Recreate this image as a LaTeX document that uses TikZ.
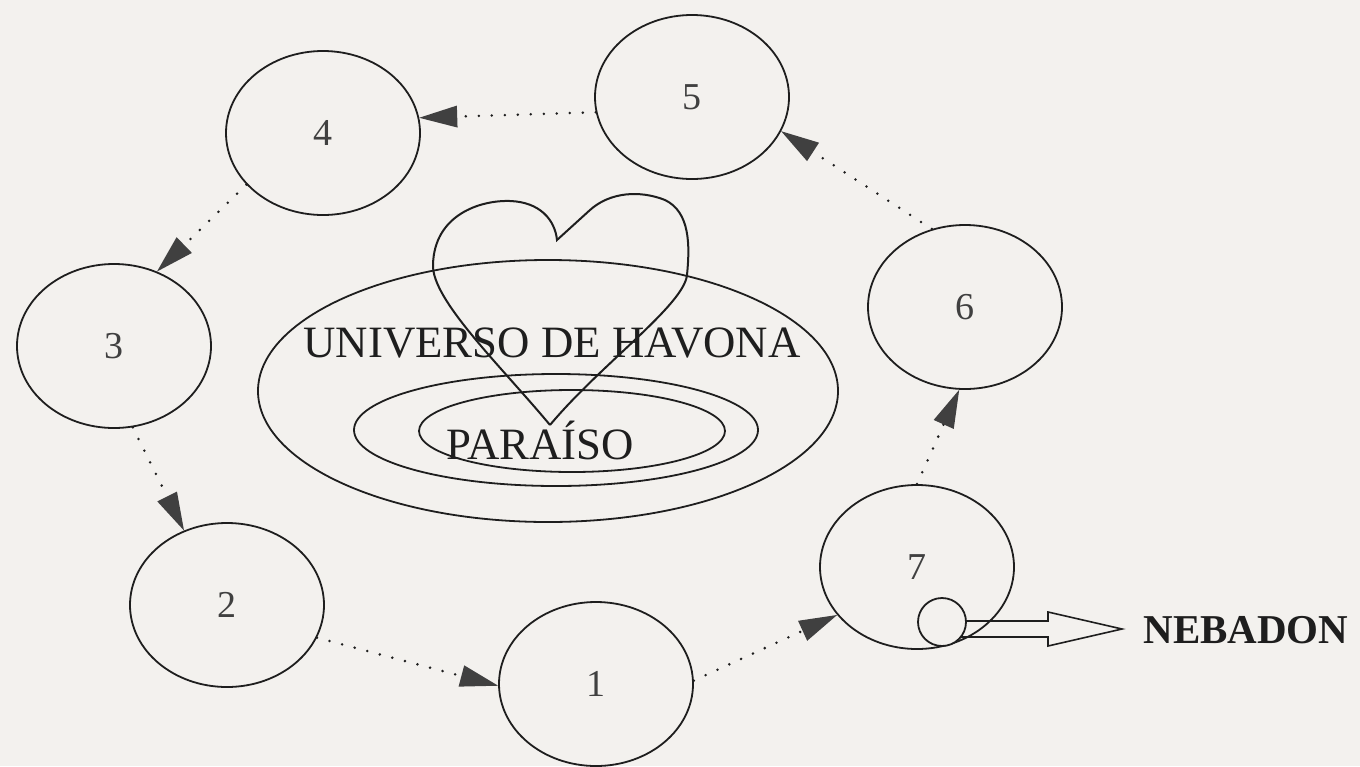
\documentclass[tikz,border=0pt]{standalone}
\usepackage{fontspec}
\setmainfont{Liberation Serif}
\usetikzlibrary{arrows.meta,shapes.geometric}
\definecolor{papel}{RGB}{243,241,238}
\definecolor{tinta}{RGB}{30,30,30}

\begin{document}
\begin{tikzpicture}[x=0.5pt,y=-0.5pt,
    orbita/.style={ellipse, draw=tinta, line width=0.9pt, inner sep=0pt,
      minimum width=97pt, minimum height=82pt,
      font=\fontsize{19}{19}\selectfont, text=tinta!85},
    salto/.style={draw=tinta, line width=1.4pt, line cap=round,
      dash pattern=on 0pt off 6.5pt,
      -{Triangle[length=19pt,width=11pt,line width=0pt,fill=tinta!85]}},
    titulo/.style={inner sep=0pt, text=tinta, font=\fontsize{22.4}{22.4}\selectfont}
  ]

  % Background and frame
  \fill[papel] (0,0) rectangle (1360,766);
  \useasboundingbox (0,0) rectangle (1360,766);

  % Central ellipses
  \draw[tinta, line width=0.9pt] (548,391) ellipse (145pt and 65.5pt);
  \draw[tinta, line width=0.9pt] (556,430) ellipse (101pt and 28pt);
  \draw[tinta, line width=0.9pt] (572,431) ellipse (76.5pt and 20.5pt);

  \node[titulo] (havona) at (552,343) {UNIVERSO DE HAVONA};
  \node[titulo] (paraiso) at (540,440) {PARAÍSO};

  % Heart
  \draw[tinta, line width=1pt]
    (550,425) .. controls (500,365) and (432,300) .. (433,265)
    .. controls (434,215) and (480,200) .. (510,201)
    .. controls (540,202) and (555,220) .. (557,240)
    -- (590,210) .. controls (610,192) and (640,190) .. (665,200)
    .. controls (690,212) and (690,245) .. (687,275)
    .. controls (684,305) and (600,365) .. (550,425);

  % Seven circuits
  \node[orbita] (o1) at (596,684) {1};
  \node[orbita] (o2) at (227,605) {2};
  \node[orbita] (o3) at (114,346) {3};
  \node[orbita] (o4) at (323,133) {4};
  \node[orbita] (o5) at (692,97)  {5};
  \node[orbita] (o6) at (965,307) {6};
  \node[orbita] (o7) at (917,567) {7};

  % Dotted path between circuits
  \draw[salto] (o5.189) -- (o4.9);
  \draw[salto] (o4.214) -- (o3.60);
  \draw[salto] (o3.283) -- (o2.120);
  \draw[salto] (o2.340) -- (o1.181);
  \draw[salto] (o1.2)   -- (o7.211);
  \draw[salto] (o7.90)  -- (o6.266);
  \draw[salto] (o6.113) -- (o5.339);

  % Exit towards Nebadon
  \coordinate (sat) at (942,622);
  \node[inner sep=0pt, text=tinta, font=\bfseries\fontsize{20.5}{20.5}\selectfont,
    anchor=west] (nebadon) at (1143,630) {NEBADON};
  \draw[tinta, line width=0.8pt]
    (sat) ++(0,-1) -- ++(106,0) -- ++(0,-9) -- ++(74,17)
    -- ++(-74,17) -- ++(0,-9) -- ++(-106,0);
  \node[circle, draw=tinta, fill=papel, line width=0.9pt, inner sep=0pt,
    minimum size=24pt] (satelite) at (sat) {};

\end{tikzpicture}
\end{document}
